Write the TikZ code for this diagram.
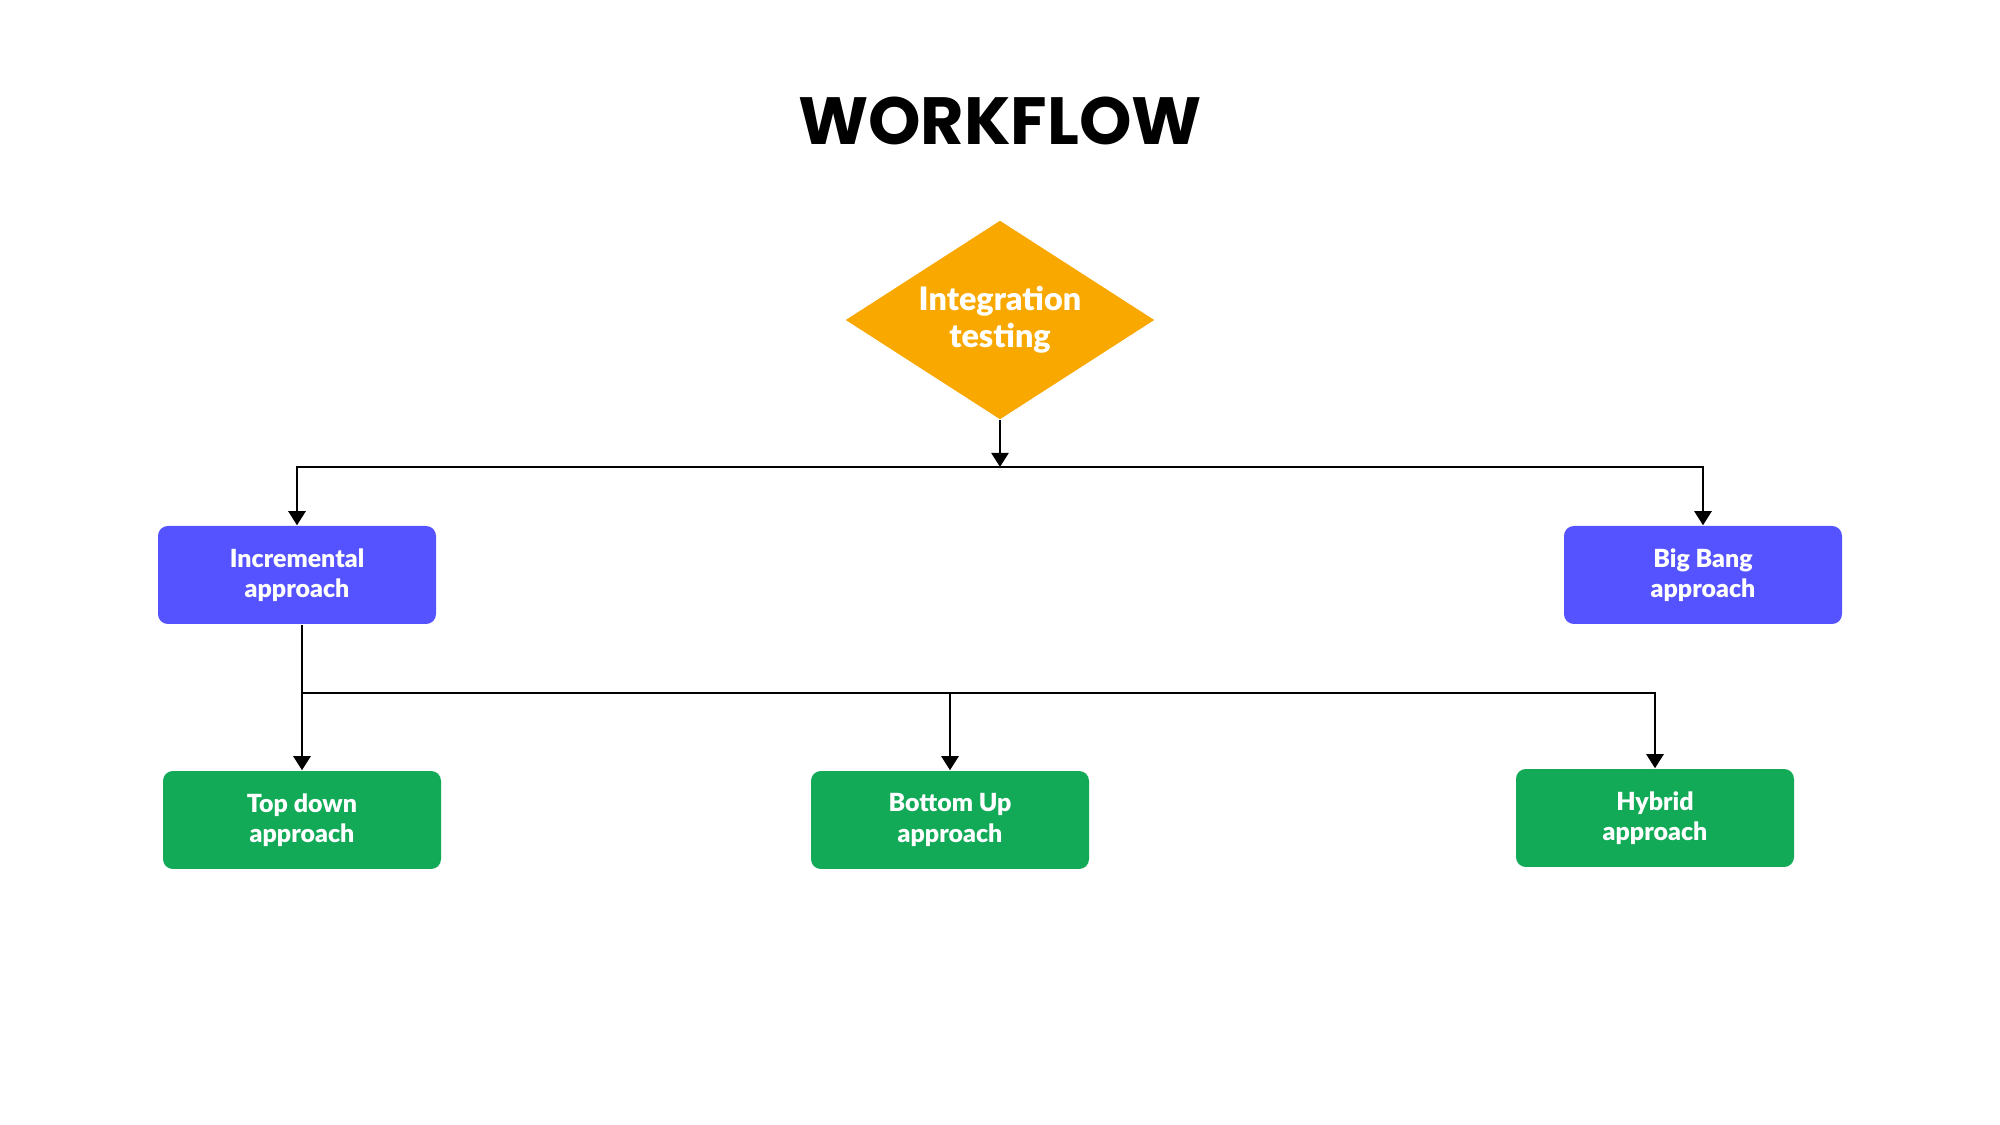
\documentclass[tikz,border=0pt]{standalone}
\usepackage{fontspec}
\setmainfont{Poppins}
\newfontfamily\labelfont{Lato}[BoldFont={Lato Black}]
\usepackage{xcolor}
\usetikzlibrary{arrows.meta, shapes.geometric, positioning}
\definecolor{DecisionColor}{RGB}{249,168,0}
\definecolor{ApproachBlue}{RGB}{85,82,255}
\definecolor{MethodGreen}{RGB}{18,169,87}
\tikzstyle{link} = [line width=0.8pt, black, -{Triangle[width=4.8pt,length=4pt]}]
\tikzstyle{box} = [rectangle, rounded corners=2.8pt, minimum width=2.78cm, minimum height=0.98cm, inner sep=0pt, text=white, align=center, font=\labelfont\bfseries\fontsize{7.1}{8.6}\selectfont]

\begin{document}
\begin{tikzpicture}[x=0.1mm, y=-0.1mm]
                \useasboundingbox (0,0) rectangle (2000,1125);
                \node[font=\bfseries\fontsize{19}{22}\selectfont] (title) at (1000,121) {WORKFLOW};

                % decision
                \node[diamond, fill=DecisionColor, inner sep=0pt, shape aspect=1.55, minimum width=3.09cm, minimum height=1.99cm, text=white, align=center, font=\labelfont\bfseries\fontsize{9.2}{10.6}\selectfont] (integ) at (1000,320) {Integration\\testing};

                \node[box, fill=ApproachBlue] (incr) at (297,575) {Incremental\\approach};
                \node[box, fill=ApproachBlue] (bigbang) at (1703,575) {Big Bang\\approach};

                \node[box, fill=MethodGreen] (topdown) at (302,820) {Top down\\approach};
                \node[box, fill=MethodGreen] (bottomup) at (950,820) {Bottom Up\\approach};
                \node[box, fill=MethodGreen] (hybrid) at (1655,818) {Hybrid\\approach};

                \coordinate (split1) at (1000,467);
                \coordinate (split2) at (302,693);

                \draw[link] (integ.south) -- (split1);
                \draw[link] (split1) -| (incr.north);
                \draw[link] (split1) -| (bigbang.north);

                \draw[link] (incr.south -| topdown.north) -- (topdown.north);
                \draw[link] (split2) -| (bottomup.north);
                \draw[link] (split2) -| (hybrid.north);
            \end{tikzpicture}
\end{document}
